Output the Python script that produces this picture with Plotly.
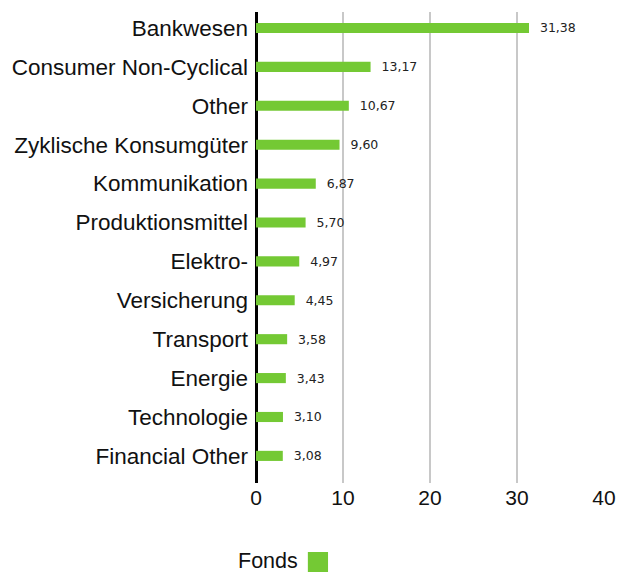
import plotly.graph_objects as go

categories = ["Bankwesen", "Consumer Non-Cyclical", "Other", "Zyklische Konsumgüter",
              "Kommunikation", "Produktionsmittel", "Elektro-", "Versicherung",
              "Transport", "Energie", "Technologie", "Financial Other"]
values = [31.38, 13.17, 10.67, 9.60, 6.87, 5.70, 4.97, 4.45, 3.58, 3.43, 3.10, 3.08]
series_name = "Fonds"
x_ticks = [0, 10, 20, 30, 40]

GREEN = "#74C934"
FONT = "Liberation Sans"

fig = go.Figure()
fig.add_trace(go.Bar(
    x=values, y=categories, orientation="h", name=series_name,
    marker=dict(color=GREEN, line=dict(width=0)),
    width=0.26,
    text=values, texttemplate="  %{x:.2f}", textposition="outside",
    constraintext="none",
    textfont=dict(family="DejaVu Sans", size=12.5, color="#222"),
    cliponaxis=False, showlegend=False,
))

fig.update_layout(
    width=617, height=572,
    margin=dict(l=256, r=13, t=12, b=89),
    paper_bgcolor="white", plot_bgcolor="white",
    separators=",.",
    font=dict(family=FONT, color="#111"),
    showlegend=False,
    xaxis=dict(range=[0, 40], tickvals=x_ticks, showgrid=True, gridcolor="#c8c8c8",
               gridwidth=2, zeroline=True, zerolinecolor="black", zerolinewidth=3,
               showline=False, ticks="", automargin=False,
               tickfont=dict(size=21, family=FONT, color="#111")),
    yaxis=dict(range=[11.697, -0.411], showgrid=False, zeroline=False, showline=False,
               ticks="", ticklabelstandoff=7, automargin=False,
               tickfont=dict(size=22.5, family=FONT, color="#111")),
    annotations=[dict(xref="paper", yref="paper", x=0.126, y=-0.166, xanchor="right",
                      yanchor="middle", text=series_name, showarrow=False,
                      font=dict(size=21.5, family=FONT, color="#111"))],
    shapes=[dict(type="rect", xref="paper", yref="paper", x0=0.149, x1=0.207,
                 y0=-0.189, y1=-0.1465, fillcolor=GREEN, line=dict(width=0))],
)

fig.write_html("out.html", config={"displayModeBar": False},
               post_script="document.body.style.margin='0px';")
